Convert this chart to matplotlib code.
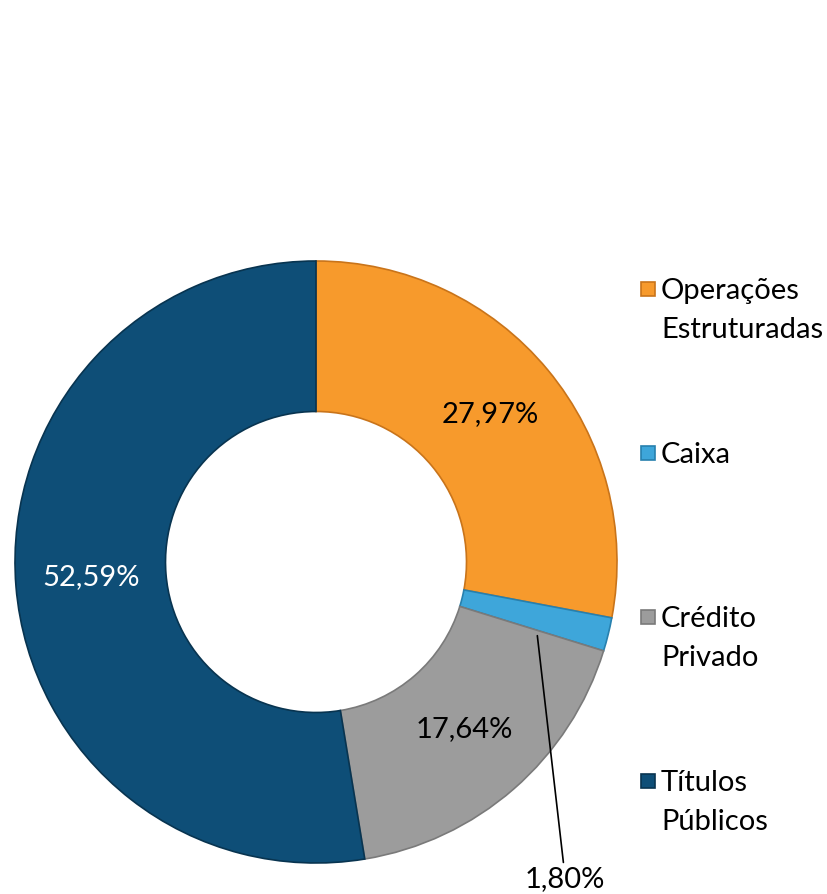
import matplotlib.pyplot as plt
import numpy as np
from matplotlib.patches import Rectangle

_FONT = 'Lato'
_FONT_SIZE = 21

# data
labels = ['Operações\nEstruturadas', 'Caixa', 'Crédito\nPrivado', 'Títulos\nPúblicos']
values = [27.97, 1.80, 17.64, 52.59]
pct_text = ['27,97%', '1,80%', '17,64%', '52,59%']
colors = ['#F79A2C', '#3EA6DA', '#9C9C9C', '#0E4E77']
edges = ['#C9741A', '#2780AE', '#7A7A7A', '#083450']
text_colors = ['black', 'black', 'black', 'white']

W, H = 827, 895
fig = plt.figure(figsize=(W / 100, H / 100), dpi=100)

# donut: center (316, 563) px, outer radius ~301 px
cx, cy, r = 316, 563, 301
ax = fig.add_axes([(cx - r) / W, (H - cy - r) / H, 2 * r / W, 2 * r / H])

wedges, _ = ax.pie(values, colors=colors, startangle=90, counterclock=False,
                   radius=1.0, wedgeprops=dict(width=0.5, linewidth=1.2),
                   frame=True)
ax.set_xlim(-1, 1)
ax.set_ylim(-1, 1)
ax.axis('off')
for w, ec in zip(wedges, edges):
    w.set_edgecolor(ec)

# percent labels at middle of each ring segment
for w, txt, tc in zip(wedges, pct_text, text_colors):
    ang = np.deg2rad((w.theta1 + w.theta2) / 2)
    x, y = 0.75 * np.cos(ang), 0.75 * np.sin(ang)
    if txt == '1,80%':
        ax.annotate(txt, xy=(x, y), xytext=(x + 0.10, y - 0.87),
                    ha='center', va='center', fontsize=_FONT_SIZE, family=_FONT,
                    color=tc, annotation_clip=False,
                    arrowprops=dict(arrowstyle='-', color='black', lw=1.2,
                                    shrinkA=0, shrinkB=14))
    else:
        ax.text(x, y + 0.015, txt, ha='center', va='center', fontsize=_FONT_SIZE,
                family=_FONT, color=tc)

# legend, drawn by hand so the marker sits on the first line
lx, ly0, step = 648, 290, 164
for i, (lab, col, ec) in enumerate(zip(labels, colors, edges)):
    yy = ly0 + i * step
    fig.patches.append(Rectangle(((lx - 7) / W, (H - yy - 7) / H), 14 / W, 14 / H,
                                 transform=fig.transFigure, facecolor=col,
                                 edgecolor=ec, linewidth=1.2))
    fig.text((lx + 13) / W, (H - yy + 12) / H, lab, ha='left', va='top',
             fontsize=_FONT_SIZE, family=_FONT, linespacing=1.62)

plt.savefig('out.png', dpi=100, facecolor='white')
